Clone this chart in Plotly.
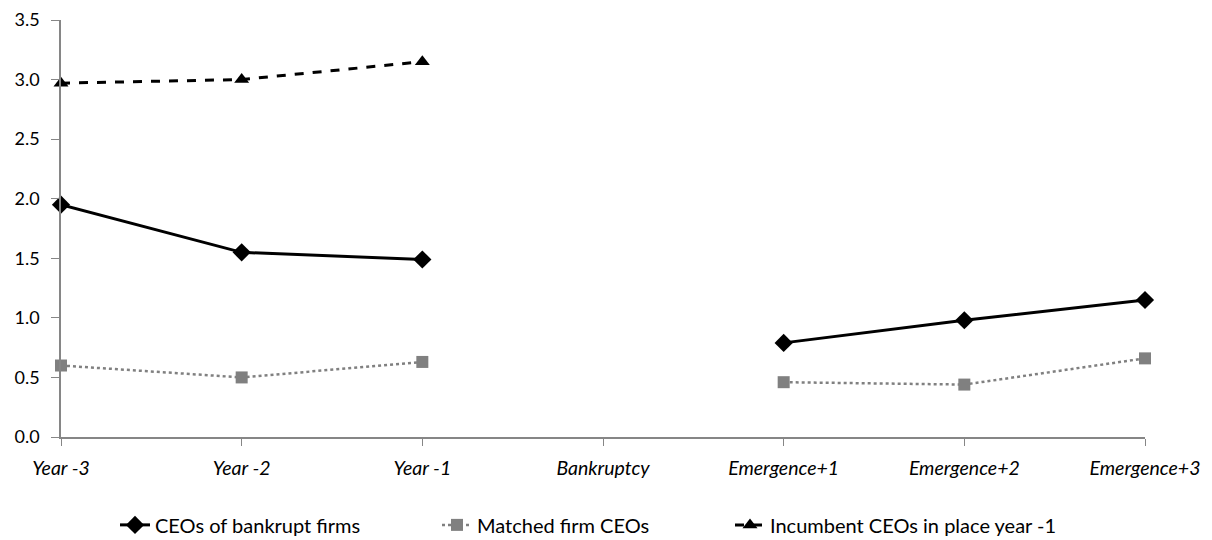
import plotly.graph_objects as go

categories = ["Year -3", "Year -2", "Year -1", "Bankruptcy", "Emergence+1", "Emergence+2", "Emergence+3"]
bankrupt_ceos = [1.95, 1.55, 1.49, None, 0.79, 0.98, 1.15]
matched_ceos = [0.60, 0.50, 0.63, None, 0.46, 0.44, 0.66]
incumbent_ceos = [2.97, 3.00, 3.15, None, None, None, None]
y_ticks = [0.0, 0.5, 1.0, 1.5, 2.0, 2.5, 3.0, 3.5]

xpos = list(range(len(categories)))
FONT = "Lato"

fig = go.Figure()
fig.add_trace(go.Scatter(
    x=xpos, y=bankrupt_ceos, name="CEOs of bankrupt firms", mode="lines+markers",
    line=dict(color="black", width=3), marker=dict(symbol="diamond", size=14, color="black"),
    connectgaps=False, cliponaxis=False, legend="legend"))
fig.add_trace(go.Scatter(
    x=xpos, y=matched_ceos, name="Matched firm CEOs", mode="lines+markers",
    line=dict(color="#808080", width=2.5, dash="dot"),
    marker=dict(symbol="square", size=12, color="#808080"),
    connectgaps=False, cliponaxis=False, legend="legend2"))
fig.add_trace(go.Scatter(
    x=xpos, y=incumbent_ceos, name="Incumbent CEOs in place year -1", mode="lines+markers",
    line=dict(color="black", width=3, dash="dash"),
    marker=dict(symbol="triangle-up", size=13, color="black"),
    connectgaps=False, cliponaxis=False, legend="legend3"))


def leg(px):
    return dict(orientation="h", xref="container", x=px / 1212, xanchor="left",
                yref="container", y=0.028, yanchor="middle",
                bgcolor="rgba(0,0,0,0)",
                font=dict(family=FONT, size=20, color="black"))


fig.update_layout(
    width=1212, height=540,
    margin=dict(l=61, r=67, t=20, b=103),
    paper_bgcolor="white", plot_bgcolor="white",
    font=dict(family=FONT, size=18, color="black"),
    showlegend=True,
    legend=leg(115), legend2=leg(437), legend3=leg(730),
)
fig.update_xaxes(
    range=[0, 6], tickmode="array", tickvals=xpos,
    ticktext=["<i>%s</i>" % c for c in categories],
    showgrid=False, zeroline=False, showline=True, linecolor="#868686", linewidth=1.5,
    ticks="outside", ticklen=7, tickcolor="#868686", tickfont=dict(size=19.5),
    ticklabelstandoff=6, automargin=False,
)
fig.update_yaxes(
    range=[0, 3.5], tickmode="array", tickvals=y_ticks, tickformat=".1f",
    showgrid=False, zeroline=False, showline=True, linecolor="#868686", linewidth=1.5,
    ticks="outside", ticklen=8, tickcolor="#868686", tickfont=dict(size=18),
    ticklabelstandoff=8, automargin=False,
)

fig.write_html("out.html")
